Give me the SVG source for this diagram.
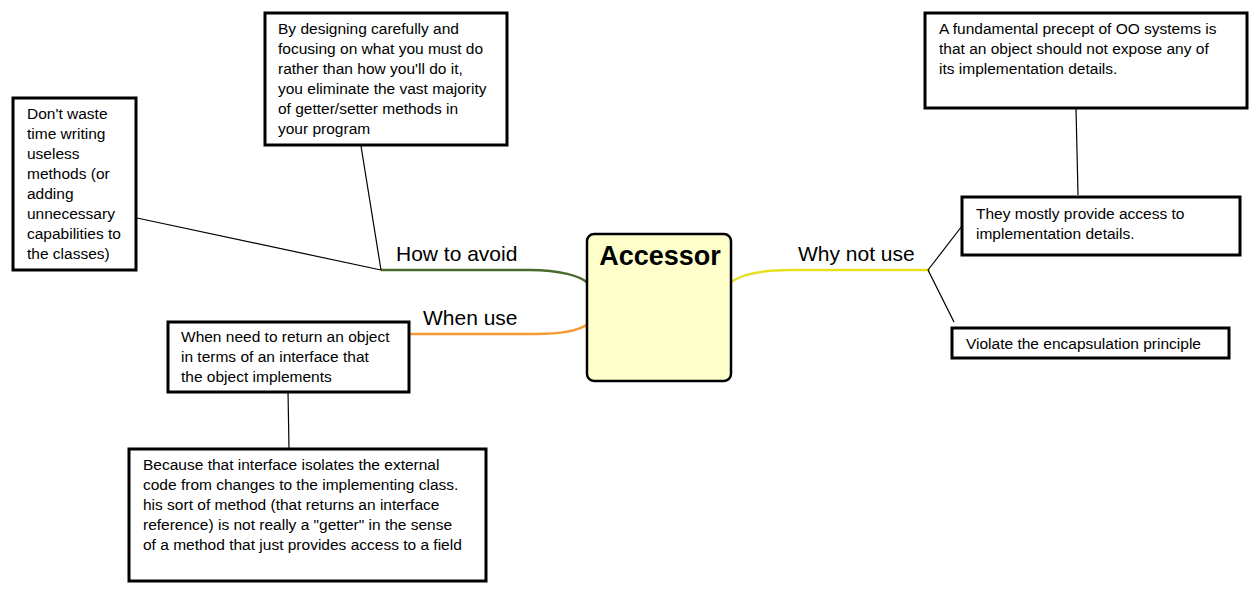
<svg xmlns="http://www.w3.org/2000/svg" width="1260" height="594" viewBox="0 0 1260 594">
<style>
.box{fill:#fff;stroke:#000;stroke-width:3}
.t{font-family:"Liberation Sans",Arial,sans-serif;font-size:15.5px;fill:#000}
.lbl{font-family:"Liberation Sans",Arial,sans-serif;font-size:21px;fill:#000}
.thin{fill:none;stroke:#000;stroke-width:1.2}
.br{fill:none;stroke-width:2.5}
</style>
<rect width="1260" height="594" fill="#fff"/>
<g id="connectors">
<path class="br" stroke="#4b6b2c" d="M381,270 L530,270 C560,270 580,276 588,283"/>
<path class="br" stroke="#f59a30" d="M410,334 L535,334 C565,334 580,330 588,324"/>
<path class="br" stroke="#e6e020" d="M731,282 C742,274 760,270 790,270 L930,270"/>
<line class="thin" x1="381" y1="270" x2="137" y2="218"/>
<line class="thin" x1="381" y1="270" x2="361" y2="146"/>
<line class="thin" x1="928" y1="270" x2="962" y2="226"/>
<line class="thin" x1="928" y1="270" x2="954" y2="322"/>
<line class="thin" x1="1076" y1="108" x2="1078" y2="195"/>
<line class="thin" x1="288" y1="391" x2="289" y2="449"/>
<text class="lbl" x="396" y="261">How to avoid</text>
<text class="lbl" x="423" y="325">When use</text>
<text class="lbl" x="798" y="261">Why not use</text>
</g>
<g id="accessor">
<rect x="587" y="234" width="144" height="147" rx="7" fill="#ffffcc" stroke="#000" stroke-width="2.5"/>
<text x="660" y="265" text-anchor="middle" font-family="'Liberation Sans',Arial,sans-serif" font-size="27" font-weight="bold">Accessor</text>
</g>
<g id="design">
<rect class="box" x="265" y="13" width="242" height="132"/>
<text class="t" x="278" y="34">By designing carefully and</text>
<text class="t" x="278" y="54">focusing on what you must do</text>
<text class="t" x="278" y="74">rather than how you'll do it,</text>
<text class="t" x="278" y="94">you eliminate the vast majority</text>
<text class="t" x="278" y="114">of getter/setter methods in</text>
<text class="t" x="278" y="134">your program</text>
</g>
<g id="dontwaste">
<rect class="box" x="13" y="98" width="123" height="172"/>
<text class="t" x="27" y="119">Don't waste</text>
<text class="t" x="27" y="139">time writing</text>
<text class="t" x="27" y="159">useless</text>
<text class="t" x="27" y="179">methods (or</text>
<text class="t" x="27" y="199">adding</text>
<text class="t" x="27" y="219">unnecessary</text>
<text class="t" x="27" y="239">capabilities to</text>
<text class="t" x="27" y="259">the classes)</text>
</g>
<g id="whenneed">
<rect class="box" x="168" y="322" width="241" height="70"/>
<text class="t" x="181" y="342">When need to return an object</text>
<text class="t" x="181" y="362">in terms of an interface that</text>
<text class="t" x="181" y="382">the object implements</text>
</g>
<g id="because">
<rect class="box" x="129" y="449" width="357" height="132"/>
<text class="t" x="143" y="470">Because that interface isolates the external</text>
<text class="t" x="143" y="490">code from changes to the implementing class.</text>
<text class="t" x="143" y="510">his sort of method (that returns an interface</text>
<text class="t" x="143" y="530">reference) is not really a "getter" in the sense</text>
<text class="t" x="143" y="550">of a method that just provides access to a field</text>
</g>
<g id="fundamental">
<rect class="box" x="925" y="13" width="322" height="95"/>
<text class="t" x="939" y="34">A fundamental precept of OO systems is</text>
<text class="t" x="939" y="54">that an object should not expose any of</text>
<text class="t" x="939" y="74">its implementation details.</text>
</g>
<g id="mostly">
<rect class="box" x="962" y="197" width="278" height="58"/>
<text class="t" x="976" y="219">They mostly provide access to</text>
<text class="t" x="976" y="239">implementation details.</text>
</g>
<g id="violate">
<rect class="box" x="952" y="328" width="277" height="30"/>
<text class="t" x="966" y="349">Violate the encapsulation principle</text>
</g>
</svg>
